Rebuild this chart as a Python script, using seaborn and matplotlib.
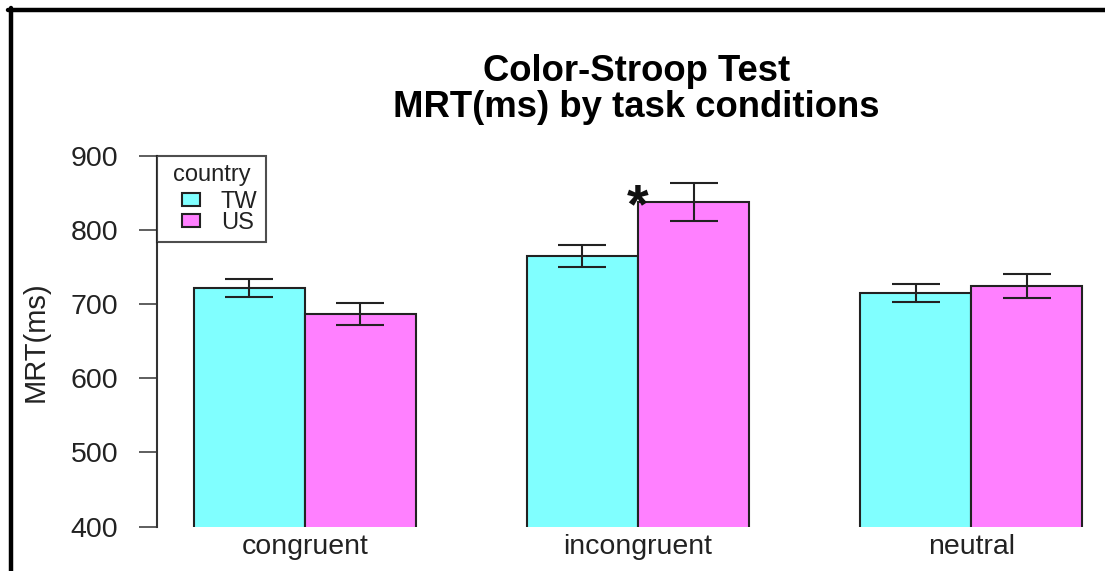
import numpy as np
import pandas as pd
import matplotlib
matplotlib.use("Agg")
import matplotlib.pyplot as plt
from matplotlib.patches import Patch, Rectangle
from matplotlib.lines import Line2D
from matplotlib.legend_handler import HandlerPatch
import seaborn as sns

# ---- data ----
conditions = ["congruent", "incongruent", "neutral"]
countries = ["TW", "US"]
tw_mrt = [722, 765, 715]
tw_se = [12.5, 15.3, 12.6]
us_mrt = [687, 838, 724]
us_se = [15.0, 25.4, 16.4]
y_ticks = [400, 500, 600, 700, 800, 900]
signif_condition = "incongruent"
signif_label = "*"

colors = ["#80FFFF", "#FF80FF"]

df = pd.DataFrame({
    "condition": conditions * 2,
    "country": ["TW"] * 3 + ["US"] * 3,
    "MRT": tw_mrt + us_mrt,
    "se": tw_se + us_se,
})

sns.set_style("white")
plt.rcParams["font.family"] = ["Liberation Sans", "DejaVu Sans"]

W, H = 1105, 571
fig = plt.figure(figsize=(W / 100, H / 100), dpi=100)
ax = fig.add_axes([157 / W, 44.3 / H, (1116 - 157) / W, 371 / H])

sns.barplot(data=df, x="condition", y="MRT", hue="country", order=conditions,
            hue_order=countries, palette=colors, width=0.667, saturation=1,
            edgecolor="#222222", linewidth=1.5, errorbar=None, legend=False, ax=ax)

# error bars from the drawn bars
for cont, se in zip(ax.containers, [tw_se, us_se]):
    xs = [b.get_x() + b.get_width() / 2 for b in cont]
    ys = [b.get_height() for b in cont]
    ax.errorbar(xs, ys, yerr=se, fmt="none", ecolor="#222222", elinewidth=1.5,
                capsize=17, capthick=1.5, clip_on=False, zorder=5)

# significance star at the left edge of the US bar
i = conditions.index(signif_condition)
us_bar = ax.containers[1][i]
ax.annotate(signif_label, xy=(us_bar.get_x(), us_bar.get_height()),
            xytext=(0, -5), textcoords="offset points", ha="center", va="center",
            fontsize=40, fontweight="bold", color="#111111", clip_on=False, zorder=6)

ax.set_ylim(400, 900)
ax.set_xlim(-0.444, 2.435)
ax.set_yticks(y_ticks)
ax.set_yticklabels([str(t) for t in y_ticks])
for s in ["top", "right", "bottom"]:
    ax.spines[s].set_visible(False)
ax.spines["left"].set_color("#333333")
ax.spines["left"].set_linewidth(1.5)
ax.tick_params(axis="y", left=True, length=13, width=1.1, color="#333333",
               pad=15, labelsize=20.5, labelcolor="#222222")
ax.tick_params(axis="x", length=0, pad=5, labelsize=20.5, labelcolor="#222222")
ax.set_xlabel("")
ax.set_ylabel("MRT(ms)", fontsize=21, color="#222222")
ax.yaxis.set_label_coords(-0.112, 0.5)

# legend: small square swatches placed at the right of a wider handle box
def swatch(legend, orig_handle, xdescent, ydescent, width, height, fontsize):
    sw = 0.75 * fontsize
    return Rectangle((-xdescent + width - sw, -ydescent), sw, height)

handles = [Patch(facecolor=c, edgecolor="#222222", linewidth=1.5) for c in colors]
leg = ax.legend(handles, countries, title="country", loc="upper left",
                bbox_to_anchor=(0, 1), borderaxespad=0, frameon=True,
                fancybox=False, fontsize=17, title_fontsize=17,
                handlelength=1.45, handleheight=0.5, handletextpad=0.9,
                labelspacing=-0.04, borderpad=0.35,
                handler_map={Patch: HandlerPatch(patch_func=swatch)})
leg._legend_box.sep = 3.6
leg.get_frame().set_edgecolor("#222222")
leg.get_frame().set_linewidth(1.5)
for t in leg.get_texts():
    t.set_color("#222222")
leg.get_title().set_color("#222222")

fig.text(636.5 / W, 1 - 54 / H, "Color-Stroop Test\nMRT(ms) by task conditions",
         ha="center", va="top", fontsize=26.3, fontweight="bold", linespacing=1.05,
         color="black")

# outer frame of the screenshot
fig.add_artist(Line2D([10.5 / W, 10.5 / W], [1 - 7.5 / H, -0.05], color="black",
                      lw=3.2, transform=fig.transFigure))
fig.add_artist(Line2D([8.3 / W, 1.05], [1 - 9.5 / H, 1 - 9.5 / H], color="black",
                      lw=3.2, transform=fig.transFigure))

fig.savefig("out.png", dpi=100, facecolor="white")
